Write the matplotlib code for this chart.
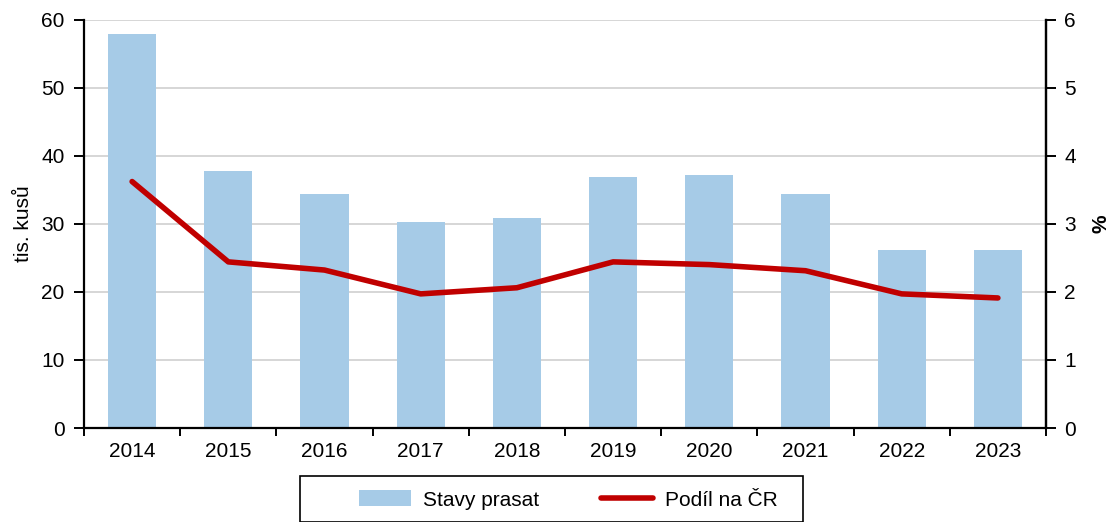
import matplotlib
matplotlib.use("Agg")
import matplotlib.pyplot as plt
from matplotlib.lines import Line2D
from matplotlib.patches import Patch, Rectangle
import numpy as np

plt.rcParams['font.family'] = ['Liberation Sans', 'DejaVu Sans']

years = ['2014', '2015', '2016', '2017', '2018', '2019', '2020', '2021', '2022', '2023']
stavy_prasat = [57.9, 37.8, 34.3, 30.3, 30.9, 36.8, 37.1, 34.4, 26.2, 26.2]
podil_na_cr = [3.62, 2.44, 2.32, 1.97, 2.06, 2.44, 2.40, 2.31, 1.97, 1.91]

bar_color = '#A6CBE7'
line_color = '#C00000'
fs = 15

fig = plt.figure(figsize=(11.08, 5.22), dpi=100)
W, H = 1108, 522
ax = fig.add_axes([84 / W, 1 - 428 / H, (1046 - 84) / W, (428 - 19.5) / H])

x = np.arange(len(years))
ax.bar(x, stavy_prasat, width=0.5, color=bar_color, zorder=2)
ax.set_xlim(-0.5, len(years) - 0.5)
ax.set_ylim(0, 60)
ax.set_yticks(np.arange(0, 61, 10))
ax.yaxis.grid(True, color='#D0D0D0', linewidth=1.2, zorder=0)
ax.set_axisbelow(True)
ax.set_xticks(x)
ax.set_xticklabels(years, fontsize=fs)
ax.set_xticks(np.arange(-0.5, len(years), 1), minor=True)
ax.tick_params(axis='x', which='major', length=0, pad=10)
ax.tick_params(axis='x', which='minor', length=6, width=1.4, direction='out')
ax.tick_params(axis='y', labelsize=fs, length=7, width=1.4, direction='out', pad=7)
ax.set_ylabel('tis. kusů', fontsize=fs, labelpad=6)
for s in ['left', 'bottom', 'right']:
    ax.spines[s].set_linewidth(1.6)
    ax.spines[s].set_color('black')
ax.spines['top'].set_visible(False)

ax2 = ax.twinx()
ax2.plot(x, podil_na_cr, color=line_color, linewidth=4, solid_capstyle='round', zorder=3)
ax2.set_ylim(0, 6)
ax2.set_yticks(np.arange(0, 7, 1))
ax2.tick_params(axis='y', labelsize=fs, length=7, width=1.4, direction='out', pad=6)
ax2.set_ylabel('%', fontsize=fs, fontweight='bold', labelpad=11)
ax2.spines['right'].set_linewidth(1.6)
ax2.spines['top'].set_visible(False)
ax2.spines['left'].set_visible(False)
ax2.spines['bottom'].set_visible(False)

# legend frame
fig.patches.append(Rectangle((300 / W, 0), (803 - 300) / W, 1 - 476 / H,
                             transform=fig.transFigure, fill=False,
                             edgecolor='black', linewidth=1.2))
handles = [Patch(facecolor=bar_color, edgecolor='none'),
           Line2D([0], [0], color=line_color, linewidth=4, solid_capstyle='round')]
fig.legend(handles, ['Stavy prasat', 'Podíl na ČR'], loc='center left',
           bbox_to_anchor=(359 / W, 1 - 500 / H), ncol=2, frameon=False,
           fontsize=fs, handlelength=2.5, handleheight=0.8, handletextpad=0.55,
           columnspacing=3.0, borderpad=0, borderaxespad=0)

fig.savefig('out.png', dpi=100)
